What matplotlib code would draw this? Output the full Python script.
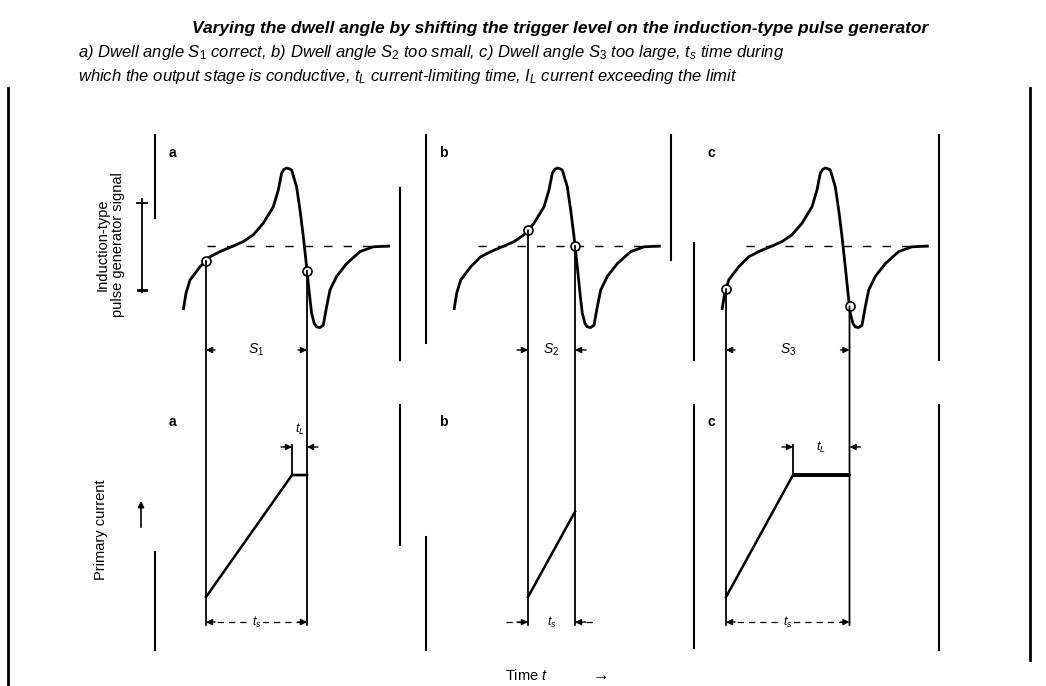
import numpy as np
import matplotlib
matplotlib.use("Agg")
import matplotlib.pyplot as plt
from matplotlib.patches import ConnectionPatch, FancyArrowPatch
from matplotlib.lines import Line2D

plt.rcParams["font.family"] = ["Liberation Sans", "DejaVu Sans"]
plt.rcParams["mathtext.fontset"] = "custom"
plt.rcParams["mathtext.it"] = "Liberation Sans:italic"
plt.rcParams["mathtext.rm"] = "Liberation Sans"

# ---- data -------------------------------------------------------------
panels = ["a", "b", "c"]

# induction-type pulse generator signal (time in crank units, normalised voltage)
sig_t = [0, 2.7, 6.7, 16.7, 26.7, 36.7, 50, 60, 70, 80, 90, 95, 98.3, 100.5,
         103.3, 106, 108.3, 113.3, 116.7, 120, 123.3, 126, 128.3, 131, 133.3,
         136.5, 140, 143.3, 146.7, 153.3, 163.3, 176.7, 190, 206.7]
sig_v = [-0.80, -0.59, -0.425, -0.26, -0.135, -0.07, 0.0, 0.055, 0.14, 0.285,
         0.49, 0.70, 0.91, 0.955, 0.975, 0.965, 0.95, 0.74, 0.45, 0.12, -0.26,
         -0.59, -0.84, -0.97, -1.01, -1.02, -0.99, -0.76, -0.55, -0.38, -0.22,
         -0.07, -0.01, 0.0]

# switch-on / switch-off instants of the output stage
dwell_on = [22.7, 74.0, 4.0]
dwell_off = [123.7, 121.0, 127.5]

# primary current waveforms (normalised, 1 = current limit)
cur_t = [[22.7, 108.7, 123.7], [74.0, 121.0], [4.0, 71.0, 127.5]]
cur_i = [[0.0, 1.0, 1.0], [0.0, 0.70], [0.0, 1.0, 1.0]]

dwell_labels = ["$S_1$", "$S_2$", "$S_3$"]

title = "Varying the dwell angle by shifting the trigger level on the induction-type pulse generator"
caption_1 = ("a) Dwell angle $S_1$ correct, b) Dwell angle $S_2$ too small, "
             "c) Dwell angle $S_3$ too large, $t_s$ time during")
caption_2 = ("which the output stage is conductive, $t_L$ current-limiting time, "
             "$I_L$ current exceeding the limit")

# ---- layout -----------------------------------------------------------
W, H = 1046, 686
fig = plt.figure(figsize=(W / 100, H / 100), dpi=100)


def fx(px):
    return px / W


def fy(py):
    return 1 - py / H


col_left = [155.3, 426.0, 694.0]
col_w = 245.0
upper_box = (135.0, 360.0)
lower_box = (405.0, 650.0)
T_LIM = (-28.0, 217.0)
V_LIM = (-1.425, 1.3875)
I_LIM = (-0.434, 1.574)

# visible extent of the panel frame lines (fractions of the box height)
upper_frames = [((0.631, 1.0), (0.0, 0.764)),
                ((0.076, 1.0), (0.444, 1.0)),
                ((0.0, 0.52), (0.0, 1.0))]
lower_frames = [((0.0, 0.40), (0.429, 1.0)),
                ((0.0, 0.461), None),
                ((0.008, 1.0), (0.0, 1.0))]

LW_FRAME = 1.5
LW_CURVE = 2.0
LW_LINE = 1.3


def make_axes(left, box, ylim, frames):
    ax = fig.add_axes([fx(left), fy(box[1]), col_w / W, (box[1] - box[0]) / H])
    ax.set_xlim(T_LIM)
    ax.set_ylim(ylim)
    ax.set_xticks([])
    ax.set_yticks([])
    ax.patch.set_visible(False)
    for side in ("top", "bottom"):
        ax.spines[side].set_visible(False)
    lo, hi = ylim
    for side, ext in zip(("left", "right"), frames):
        sp = ax.spines[side]
        if ext is None:
            sp.set_visible(False)
        else:
            sp.set_bounds(lo + ext[0] * (hi - lo), lo + ext[1] * (hi - lo))
            sp.set_linewidth(LW_FRAME)
    return ax


def arrowhead(ax, x_tip, x_tail, y):
    ax.annotate("", xy=(x_tip, y), xytext=(x_tail, y),
                arrowprops=dict(arrowstyle="-|>", mutation_scale=9, lw=1.0,
                                color="black", shrinkA=0, shrinkB=0))


def dimension(ax, t0, t1, y, label, inside, line=True, label_y=None, fs=10):
    if inside:
        arrowhead(ax, t0, t0 + 9, y)
        arrowhead(ax, t1, t1 - 9, y)
        if line:
            ax.plot([t0, t1], [y, y], color="black", lw=0.9, ls=(0, (5, 4)))
    else:
        arrowhead(ax, t0, t0 - 11, y)
        arrowhead(ax, t1, t1 + 11, y)
        if line:
            ax.plot([t0 - 22, t0], [y, y], color="black", lw=0.9, ls=(0, (5, 4)))
            ax.plot([t1, t1 + 22], [y, y], color="black", lw=0.9, ls=(0, (5, 4)))
    ly = y if label_y is None else label_y
    ax.text((t0 + t1) / 2, ly, label, ha="center", va="center", fontsize=fs,
            bbox=dict(fc="white", ec="none", pad=1.0), zorder=6)


for k, name in enumerate(panels):
    ax_u = make_axes(col_left[k], upper_box, V_LIM, upper_frames[k])
    ax_l = make_axes(col_left[k], lower_box, I_LIM, lower_frames[k])

    # zero reference of the generator signal
    ax_u.plot([24, 206], [0, 0], color="black", lw=1.0, ls=(0, (6, 8)))
    ax_u.plot(sig_t, sig_v, color="black", lw=LW_CURVE, solid_capstyle="butt",
              solid_joinstyle="round", zorder=4)

    t_on, t_off = dwell_on[k], dwell_off[k]
    v_on = np.interp(t_on, sig_t, sig_v)
    v_off = np.interp(t_off, sig_t, sig_v)

    # lines from the trigger points down to the current diagram
    for t, v in ((t_on, v_on), (t_off, v_off)):
        con = ConnectionPatch(xyA=(t, v), coordsA=ax_u.transData,
                              xyB=(t, -0.23), coordsB=ax_l.transData,
                              color="black", lw=LW_LINE)
        fig.add_artist(con)
    ax_u.plot([t_on, t_off], [v_on, v_off], "o", ms=6.5, mfc="white",
              mec="black", mew=1.2, zorder=6)

    # dwell angle
    dimension(ax_u, t_on, t_off, -1.30, dwell_labels[k], inside=(k != 1),
              line=False)

    # primary current
    ax_l.plot(cur_t[k], cur_i[k], color="black", lw=1.8,
              solid_joinstyle="round", zorder=4)
    if len(cur_t[k]) == 3:
        ax_l.plot(cur_t[k][1:], cur_i[k][1:], color="black",
                  lw=2.8 if k == 2 else 1.6, solid_capstyle="butt", zorder=4)
        t_lim_start = cur_t[k][1]
        ax_l.plot([t_lim_start, t_lim_start], [1.0, 1.25], color="black",
                  lw=LW_LINE)
        if k == 0:
            dimension(ax_l, t_lim_start, cur_t[k][2], 1.23, "$t_L$",
                      inside=False, line=False, label_y=1.37, fs=9)
        else:
            dimension(ax_l, t_lim_start, cur_t[k][2], 1.23, "$t_L$",
                      inside=False, line=False, fs=9)

    # conduction time of the output stage
    dimension(ax_l, t_on, t_off, -0.205, "$t_s$", inside=(k != 1), fs=9)

    ax_u.text(0.07, 0.92, name, transform=ax_u.transAxes, fontsize=10,
              fontweight="bold", ha="center", va="center")
    ax_l.text(0.07, 0.93, name, transform=ax_l.transAxes, fontsize=10,
              fontweight="bold", ha="center", va="center")

# axis arrows of the first column
fig.add_artist(Line2D([fx(142), fx(142)], [fy(199), fy(292)], color="black",
                      lw=1.3))
fig.add_artist(Line2D([fx(137), fx(147)], [fy(203), fy(203)], color="black",
                      lw=1.3))
fig.add_artist(Line2D([fx(138), fx(146)], [fy(290), fy(290)], color="black",
                      lw=2.0))
fig.add_artist(FancyArrowPatch(
    (fx(141), fy(530)), (fx(141), fy(498)), transform=fig.transFigure,
    arrowstyle="-|>", mutation_scale=9, lw=1.2, color="black"))

# axis titles
fig.text(fx(110), fy(245), "Induction-type\npulse generator signal",
         rotation=90, ha="center", va="center", multialignment="center",
         fontsize=10.5, linespacing=1.15)
fig.text(fx(101), fy(530), "Primary current", rotation=90, ha="center",
         va="center", fontsize=10.5)
fig.text(fx(505), fy(676), "Time $t$", ha="left", va="center", fontsize=10.5)
fig.text(fx(601), fy(676), "\u2192", ha="center", va="center", fontsize=12)

# headline and legend text
fig.text(fx(560), fy(28), title, ha="center", va="center", fontsize=12.5,
         fontweight="bold", fontstyle="italic")
fig.text(fx(78), fy(52), caption_1, ha="left", va="center", fontsize=12,
         fontstyle="italic")
fig.text(fx(78), fy(77), caption_2, ha="left", va="center", fontsize=12,
         fontstyle="italic")

# outer frame
fig.add_artist(Line2D([fx(8), fx(8)], [fy(88), 0.0], color="black", lw=2.0))
fig.add_artist(Line2D([fx(1030), fx(1030)], [fy(88), fy(660)], color="black",
                      lw=2.0))

fig.savefig("out.png", dpi=100, facecolor="white")
